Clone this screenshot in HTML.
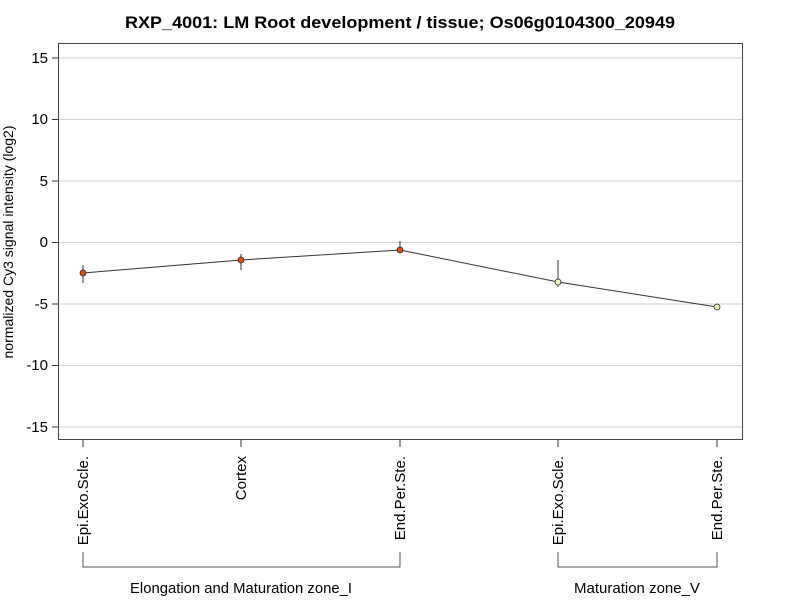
<!DOCTYPE html>
<html><head><style>body{margin:0;background:#fff}</style></head><body>
<svg width="800" height="600" xmlns="http://www.w3.org/2000/svg" font-family="Liberation Sans, Arial, sans-serif">
<rect width="800" height="600" fill="#fff"/>
<text x="400" y="28" text-anchor="middle" font-size="17" font-weight="bold" textLength="550" lengthAdjust="spacingAndGlyphs">RXP_4001: LM Root development / tissue; Os06g0104300_20949</text>
<g stroke="#d0d0d0" stroke-width="1">
<line x1="58" x2="742" y1="58" y2="58"/><line x1="58" x2="742" y1="119.5" y2="119.5"/><line x1="58" x2="742" y1="181" y2="181"/><line x1="58" x2="742" y1="242.5" y2="242.5"/><line x1="58" x2="742" y1="304" y2="304"/><line x1="58" x2="742" y1="365.5" y2="365.5"/><line x1="58" x2="742" y1="427" y2="427"/>
</g>
<rect x="58.5" y="43.5" width="684" height="396" fill="none" stroke="#444"/>
<g stroke="#333"><line x1="52" x2="58" y1="58" y2="58"/><line x1="52" x2="58" y1="119.5" y2="119.5"/><line x1="52" x2="58" y1="181" y2="181"/><line x1="52" x2="58" y1="242.5" y2="242.5"/><line x1="52" x2="58" y1="304" y2="304"/><line x1="52" x2="58" y1="365.5" y2="365.5"/><line x1="52" x2="58" y1="427" y2="427"/></g>
<g font-size="15" text-anchor="end"><text x="48" y="63">15</text><text x="48" y="124">10</text><text x="48" y="186">5</text><text x="48" y="247">0</text><text x="48" y="309">-5</text><text x="48" y="370">-10</text><text x="48" y="432">-15</text></g>
<text transform="translate(13,242) rotate(-90)" text-anchor="middle" font-size="14" textLength="233" lengthAdjust="spacingAndGlyphs">normalized Cy3 signal intensity (log2)</text>
<g stroke="#333"><line x1="83" x2="83" y1="440" y2="447"/><line x1="241" x2="241" y1="440" y2="447"/><line x1="400" x2="400" y1="440" y2="447"/><line x1="558" x2="558" y1="440" y2="447"/><line x1="717" x2="717" y1="440" y2="447"/></g>
<g font-size="15" text-anchor="end">
<text transform="translate(88,456) rotate(-90)">Epi.Exo.Scle.</text>
<text transform="translate(246,456) rotate(-90)">Cortex</text>
<text transform="translate(405,456) rotate(-90)">End.Per.Ste.</text>
<text transform="translate(563,456) rotate(-90)">Epi.Exo.Scle.</text>
<text transform="translate(722,456) rotate(-90)">End.Per.Ste.</text>
</g>
<g fill="none" stroke="#555"><path d="M83 552V567H400V552"/><path d="M558 552V567H717V552"/></g>
<g font-size="15" text-anchor="middle"><text x="241" y="593" textLength="222" lengthAdjust="spacingAndGlyphs">Elongation and Maturation zone_I</text><text x="637" y="593">Maturation zone_V</text></g>
<g stroke="#333" stroke-width="1"><line x1="83" x2="83" y1="265" y2="283"/><line x1="241" x2="241" y1="254" y2="270"/><line x1="400" x2="400" y1="241" y2="252"/><line x1="558" x2="558" y1="260" y2="287"/></g>
<polyline points="83,273 241,260 400,250 558,282 717,307" fill="none" stroke="#333"/>
<g stroke="#222" stroke-width="0.8"><circle cx="83" cy="273" r="3" fill="#e0501a"/><circle cx="241" cy="260" r="3" fill="#e0501a"/><circle cx="400" cy="250" r="3" fill="#e0501a"/><circle cx="558" cy="282" r="3" fill="#f5f0c0"/><circle cx="717" cy="307" r="3" fill="#e8f0c0"/></g>
</svg>
</body></html>
